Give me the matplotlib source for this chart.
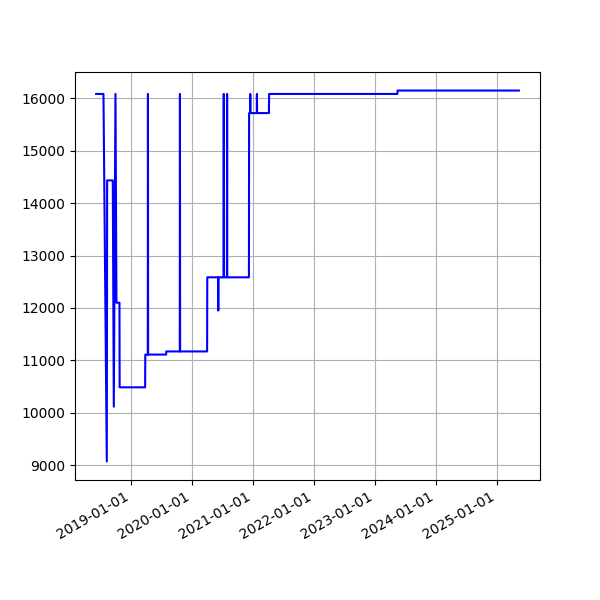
import pandas as pd
import matplotlib
matplotlib.use('Agg')
import matplotlib.pyplot as plt
import matplotlib.dates as mdates

dates = [
    '2018-06-03', '2018-07-17', '2018-08-06', '2018-08-08', '2018-09-11',
    '2018-09-17', '2018-09-27', '2018-10-03', '2018-10-21', '2018-10-22',
    '2019-03-24', '2019-03-25', '2019-04-09', '2019-04-10', '2019-04-11',
    '2019-07-28', '2019-07-29', '2019-10-18', '2019-10-19', '2019-10-20',
    '2020-03-30', '2020-03-31', '2020-06-04', '2020-06-05', '2020-06-06',
    '2020-07-07', '2020-07-08', '2020-07-09', '2020-07-27', '2020-07-28',
    '2020-07-29', '2020-12-06', '2020-12-07', '2020-12-13', '2020-12-14',
    '2020-12-15', '2021-01-22', '2021-01-23', '2021-01-24', '2021-04-05',
    '2021-04-06', '2023-05-16', '2023-05-17', '2025-05-14',
]
values = [
    16085, 16085, 9070, 14435, 14435,
    10115, 16085, 12100, 12100, 10485,
    10485, 11110, 11110, 16085, 11110,
    11110, 11170, 11170, 16085, 11170,
    11170, 12585, 12585, 11950, 12585,
    12585, 16085, 12585, 12585, 16085,
    12585, 12585, 15720, 15720, 16085,
    15720, 15720, 16085, 15720, 15720,
    16085, 16085, 16150, 16150,
]

df = pd.DataFrame({'date': pd.to_datetime(dates), 'value': values})

fig, ax = plt.subplots(figsize=(6, 6), dpi=100)
ax.plot(df['date'], df['value'], color='blue')

ax.xaxis.set_major_locator(mdates.YearLocator())
ax.xaxis.set_major_formatter(mdates.DateFormatter('%Y-%m-%d'))
ax.grid(True)
fig.autofmt_xdate()

plt.savefig('out.png', dpi=100)
